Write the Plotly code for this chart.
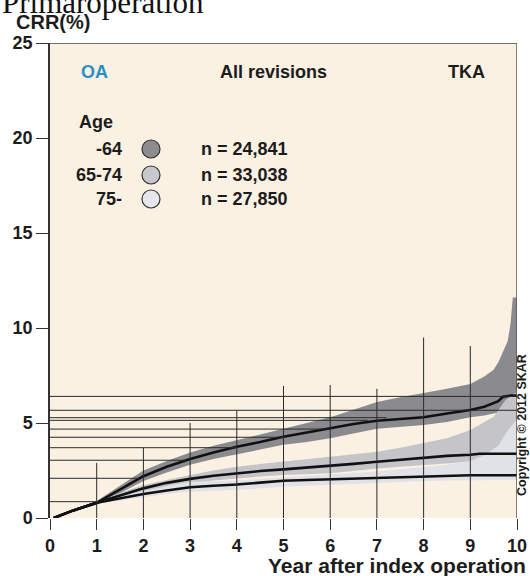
import plotly.graph_objects as go

W, H = 530, 576
L, R, T, B = 50, 517, 43, 518

# ---------------- data ----------------
x_64 = [0.08, 0.5, 1, 1.5, 2, 2.5, 3, 3.5, 4, 4.5, 5, 5.5, 6, 6.5, 7, 7.5, 8, 8.5, 9, 9.3, 9.5, 9.6, 9.7, 9.8, 9.86, 9.91, 10]
line_64 = [0, 0.4, 0.8, 1.5, 2.2, 2.7, 3.1, 3.45, 3.75, 4.0, 4.28, 4.5, 4.72, 4.95, 5.12, 5.2, 5.3, 5.5, 5.68, 5.86, 6.04, 6.15, 6.38, 6.44, 6.44, 6.44, 6.44]
upper_64 = [0, 0.45, 0.9, 1.7, 2.5, 3.0, 3.45, 3.8, 4.1, 4.4, 4.72, 5.0, 5.3, 5.7, 6.1, 6.35, 6.56, 6.8, 7.05, 7.45, 7.8, 8.2, 8.75, 9.3, 10.2, 11.6, 11.6]
lower_64 = [0, 0.35, 0.7, 1.3, 1.95, 2.4, 2.8, 3.1, 3.35, 3.6, 3.85, 4.0, 4.2, 4.45, 4.7, 4.8, 4.9, 5.05, 5.3, 5.4, 5.5, 5.55, 5.6, 5.7, 5.7, 5.75, 5.8]

x_6574 = [0.08, 0.5, 1, 1.5, 2, 2.5, 3, 3.5, 4, 4.5, 5, 5.5, 6, 6.5, 7, 7.5, 8, 8.5, 9, 9.2, 9.5, 9.75, 9.9, 10]
line_6574 = [0, 0.4, 0.8, 1.2, 1.56, 1.85, 2.06, 2.22, 2.35, 2.47, 2.56, 2.65, 2.75, 2.85, 2.96, 3.06, 3.19, 3.27, 3.33, 3.38, 3.38, 3.38, 3.38, 3.38]
upper_6574 = [0, 0.42, 0.85, 1.32, 1.74, 2.02, 2.26, 2.5, 2.7, 2.84, 2.96, 3.1, 3.23, 3.36, 3.49, 3.7, 3.93, 4.2, 4.63, 4.9, 5.33, 6.2, 6.5, 6.6]
lower_6574 = [0, 0.38, 0.75, 1.08, 1.39, 1.62, 1.82, 1.97, 2.09, 2.18, 2.26, 2.3, 2.35, 2.48, 2.61, 2.7, 2.79, 2.88, 2.96, 2.98, 3.0, 3.0, 3.0, 3.0]

x_75 = [0.08, 0.5, 1, 1.5, 2, 2.5, 3, 3.5, 4, 4.5, 5, 5.5, 6, 6.5, 7, 7.5, 8, 8.5, 9, 9.3, 9.6, 9.8, 10]
line_75 = [0, 0.4, 0.8, 1.05, 1.26, 1.45, 1.62, 1.7, 1.76, 1.86, 1.96, 2.0, 2.04, 2.08, 2.12, 2.15, 2.17, 2.21, 2.25, 2.25, 2.25, 2.25, 2.25]
upper_75 = [0, 0.42, 0.85, 1.14, 1.4, 1.68, 1.91, 1.94, 1.98, 2.06, 2.14, 2.2, 2.28, 2.37, 2.45, 2.56, 2.67, 2.8, 3.0, 3.3, 3.8, 4.6, 5.2]
lower_75 = [0, 0.38, 0.75, 0.94, 1.1, 1.26, 1.39, 1.43, 1.47, 1.56, 1.65, 1.7, 1.74, 1.8, 1.85, 1.9, 1.95, 1.98, 2.0, 2.0, 2.0, 2.0, 2.0]

age_groups = ["-64", "65-74", "75-"]
n_labels = ["n = 24,841", "n = 33,038", "n = 27,850"]

x_ticks = [0, 1, 2, 3, 4, 5, 6, 7, 8, 9, 10]
y_ticks = [0, 5, 10, 15, 20, 25]

# guide-line artefacts in the original picture
hline_y = [6.4, 5.67, 5.28, 5.14, 4.68, 4.25, 3.7, 3.04, 2.09, 0.86]
hline_x0 = [-0.41, -0.11, -0.21, -0.17, -0.21, -0.06, -0.11, -0.28, -0.26, -0.11]
hline_x1 = [10, 10, 7.2, 6.8, 6.0, 5.0, 4.0, 2.9, 1.9, 1.05]
vline_x = [1, 2, 3, 4, 5, 6, 7, 8, 9]
vline_top = [2.9, 3.7, 5.0, 5.65, 6.95, 7.0, 6.8, 9.5, 9.05]

# ---------------- style ----------------
FONT = "Liberation Sans, Arial, sans-serif"
TXT = "#1c1c1c"
band_colors = ["#8b8b8f", "#c4c4c9", "#e1e1e8"]
dot_colors = ["#8d8d90", "#c8c8cc", "#e6e6ec"]

fig = go.Figure()

series = [(x_64, line_64, upper_64, lower_64),
          (x_6574, line_6574, upper_6574, lower_6574),
          (x_75, line_75, upper_75, lower_75)]

for (xs, ln, up, lo), col in zip(series, band_colors):
    fig.add_trace(go.Scatter(x=xs + xs[::-1], y=up + lo[::-1], fill="toself",
                             fillcolor=col, line=dict(width=0), mode="lines",
                             hoverinfo="skip", showlegend=False))

for xs, ln, up, lo in series:
    fig.add_trace(go.Scatter(x=xs, y=ln, mode="lines",
                             line=dict(color="#111111", width=2.6),
                             showlegend=False))

shapes = []
for y, x0, x1 in zip(hline_y, hline_x0, hline_x1):
    shapes.append(dict(type="line", xref="x", yref="y", x0=x0, x1=x1, y0=y, y1=y,
                       line=dict(color="#2a2a2a", width=1), layer="above"))
ybot = -(530 - B) / ((B - T) / 25)
for x, top in zip(vline_x, vline_top):
    shapes.append(dict(type="line", xref="x", yref="y", x0=x, x1=x, y0=0, y1=top,
                       line=dict(color="#2a2a2a", width=1), layer="above"))
# frame
shapes.append(dict(type="line", xref="x", yref="y", x0=0, x1=10, y0=25, y1=25,
                   line=dict(color="#444444", width=1.5), layer="above"))
shapes.append(dict(type="line", xref="x", yref="y", x0=10, x1=10, y0=ybot, y1=25,
                   line=dict(color="#555555", width=1.5), layer="above"))

def px(xp):
    return (xp - L) / (R - L)

def py(yp):
    return (B - yp) / (B - T)

# legend dots
dot_rows = [149, 175, 199]
for yy, c in zip(dot_rows, dot_colors):
    shapes.append(dict(type="circle", xref="paper", yref="paper",
                       xsizemode="pixel", ysizemode="pixel",
                       xanchor=px(151), yanchor=py(yy), x0=-9, x1=9, y0=-9, y1=9,
                       fillcolor=c, line=dict(color="#333333", width=1.2)))

ann = []
def text(t, x, y, size, xanchor="left", yanchor="middle", color=TXT, bold=True,
         family=FONT, angle=0):
    ann.append(dict(text=t, x=px(x), y=py(y), xref="paper", yref="paper",
                    xanchor=xanchor, yanchor=yanchor, showarrow=False,
                    textangle=angle,
                    font=dict(family=family, size=size, color=color,
                              weight="bold" if bold else "normal")))

text("Primaroperation", 0, 22, 31, yanchor="bottom", color="#111111", bold=False,
     family="Liberation Serif, Times New Roman, serif")
text("CRR(%)", 14, 22, 20)
text("OA", 79, 72, 18, color="#2b8fc2")
text("All revisions", 273, 72, 18, xanchor="center")
text("TKA", 487, 72, 18, xanchor="right")
text("Age", 77, 122, 18)
for g, n, yy in zip(age_groups, n_labels, dot_rows):
    text(g, 124, yy, 18, xanchor="right")
    text(n, 199, yy, 18)
text("Year after index operation", 528, 565, 21, xanchor="right")
text("Copyright © 2012 SKAR", 522, 425, 12.5, xanchor="center", angle=-90)

fig.update_layout(
    width=W, height=H,
    margin=dict(l=L, r=W - R, t=T, b=H - B, autoexpand=False),
    paper_bgcolor="white",
    plot_bgcolor="#faf1e2",
    shapes=shapes, annotations=ann,
    showlegend=False,
)
fig.update_xaxes(range=[0, 10], tickvals=x_ticks, ticktext=[str(v) for v in x_ticks],
                 ticks="outside", ticklen=11, tickcolor="#333333", tickwidth=1,
                 showgrid=False, zeroline=False, showline=False,
                 tickfont=dict(family=FONT, size=18, color=TXT, weight="bold"))
fig.update_yaxes(range=[0, 25], tickvals=y_ticks, ticktext=[str(v) for v in y_ticks],
                 ticks="outside", ticklen=12, tickcolor="#333333", tickwidth=1,
                 showgrid=False, zeroline=False, showline=True, linecolor="#333333",
                 linewidth=1.5,
                 tickfont=dict(family=FONT, size=18, color=TXT, weight="bold"))

fig.write_html("out.html")
